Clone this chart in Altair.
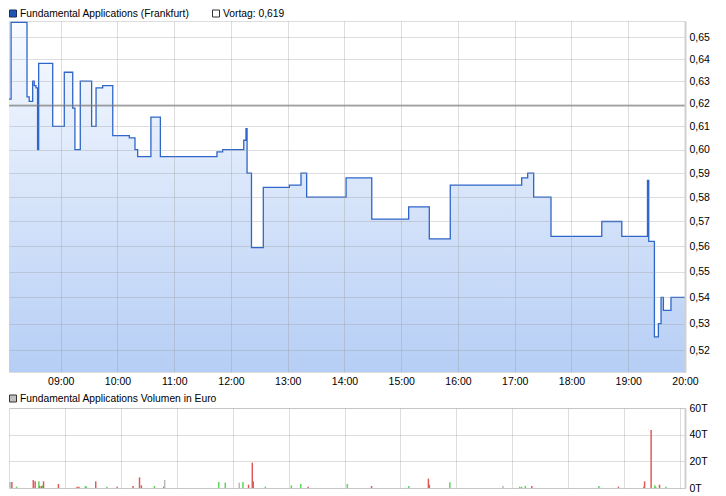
import altair as alt
import pandas as pd

# ---------------- data ----------------
price_times = ["08:01:20", "08:04:00", "08:07:30", "08:24:20", "08:26:40", "08:30:20",
               "08:32:00", "08:33:50", "08:35:30", "08:36:40", "08:51:30", "09:03:45",
               "09:12:40", "09:15:00", "09:20:40", "09:32:40", "09:37:20", "09:44:20",
               "09:55:00", "10:12:30", "10:18:30", "10:21:20", "10:35:20", "10:45:20",
               "11:45:10", "11:51:10", "12:13:30", "12:15:50", "12:17:00", "12:21:40",
               "12:34:10", "13:01:40", "13:14:00", "13:20:00", "14:01:40", "14:28:50",
               "15:07:50", "15:29:40", "15:51:50", "17:07:20", "17:13:40", "17:20:00",
               "17:38:20", "18:32:00", "18:53:10", "19:20:20", "19:21:40", "19:27:40",
               "19:31:50", "19:34:40", "19:37:10", "19:45:10", "20:00:00"]
prices = [0.640, 0.622, 0.657, 0.623, 0.621, 0.630,
          0.628, 0.627, 0.600, 0.638, 0.610, 0.634,
          0.618, 0.600, 0.630, 0.610, 0.627, 0.628,
          0.606, 0.605, 0.600, 0.597, 0.614, 0.597,
          0.599, 0.600, 0.604, 0.609, 0.590, 0.5595,
          0.584, 0.585, 0.590, 0.580, 0.588, 0.571,
          0.576, 0.563, 0.585, 0.588, 0.590, 0.580,
          0.564, 0.570, 0.564, 0.587, 0.562, 0.525,
          0.530, 0.540, 0.535, 0.540, 0.540]
vortag = 0.619

vol_times = ["08:01", "08:03", "08:08", "08:26", "08:28", "08:32", "08:33", "08:35", "08:36",
             "08:37", "08:53", "09:13", "09:15", "09:22", "09:23", "09:33", "09:45", "09:56",
             "10:13", "10:20", "10:22", "10:36", "10:46", "10:47", "11:45", "11:52", "12:07",
             "12:11", "12:17", "12:21", "12:22", "12:35", "13:03", "13:13", "13:21", "14:03",
             "14:29", "15:09", "15:30", "15:31", "15:53", "16:50", "17:08", "17:10", "17:14",
             "17:21", "18:33", "18:54", "19:21", "19:22", "19:29", "19:33", "19:34", "19:38",
             "19:45"]
vol_k = [4.5, 4.5, 1, 6, 5, 5, 1.5, 1.5, 2,
         5, 3, 1, 1, 1.5, 1, 5, 1, 1,
         1.5, 8, 2, 1.5, 1, 6, 4.5, 4, 4,
         4.5, 2.5, 19, 5, 1, 2, 3, 1, 3,
         1.5, 1.5, 7, 2.5, 4.3, 1.5, 1, 1, 1.5,
         1.5, 1.5, 1, 1, 5, 43.5, 2, 1, 2.5,
         1]
vol_dir = ["gray", "red", "green", "red", "red", "green", "red", "red", "green",
           "red", "red", "red", "red", "green", "green", "red", "green", "red",
           "red", "red", "red", "green", "red", "gray", "green", "green", "gray",
           "green", "red", "red", "red", "green", "green", "green", "red", "green",
           "red", "green", "red", "red", "green", "gray", "green", "green", "green",
           "red", "green", "red", "green", "red", "red", "green", "green", "red",
           "green"]

hour_ticks = [9, 10, 11, 12, 13, 14, 15, 16, 17, 18, 19, 20]
price_ticks = [0.52, 0.53, 0.54, 0.55, 0.56, 0.57, 0.58, 0.59, 0.60, 0.61, 0.62, 0.63, 0.64, 0.65]
vol_ticks = [0, 20, 40, 60]

legend_price = "Fundamental Applications (Frankfurt)"
legend_vortag = "Vortag: " + f"{vortag:.3f}".replace(".", ",")
legend_volume = "Fundamental Applications Volumen in Euro"


def to_hours(s):
    parts = [int(p) for p in s.split(":")]
    secs = parts[2] if len(parts) > 2 else 0
    return parts[0] + parts[1] / 60 + secs / 3600


price_df = pd.DataFrame({"h": [to_hours(t) for t in price_times], "p": prices})
vol_df = pd.DataFrame({"h": [to_hours(t) for t in vol_times], "v": vol_k, "d": vol_dir})
one = pd.DataFrame({"a": [legend_price], "b": [legend_vortag], "c": [legend_volume]})
vortag_df = pd.DataFrame({"v": [vortag]})

FONT = "Liberation Sans"
X_DOMAIN = [8 + 5.3 / 60, 20]
GRID = dict(gridColor="#999999", gridOpacity=0.33, zindex=1)

x_scale = alt.Scale(domain=X_DOMAIN, nice=False, zero=False)
hour_label = "(datum.value < 10 ? '0' : '') + datum.value + ':00'"

# ---------------- price panel ----------------
x_price = alt.X("h:Q", scale=x_scale,
                axis=alt.Axis(values=hour_ticks, labelExpr=hour_label, title=None,
                              ticks=False, tickSize=0, domain=False, labelPadding=4,
                              labelFont=FONT, labelFontSize=10.5, labelColor="#000000",
                              labelFlush=False, **GRID))
y_price = alt.Y("p:Q",
                scale=alt.Scale(type="log", domain=[0.512, 0.6576], nice=False, zero=False),
                axis=alt.Axis(orient="right", values=price_ticks,
                              labelExpr="replace(format(datum.value, '.2f'), '.', ',')",
                              title=None, ticks=False, tickSize=0, domainColor="#d0d0d0",
                              domainWidth=2, labelPadding=4, labelFont=FONT, labelFontSize=10.5,
                              labelColor="#000000", labelFlush=False, **GRID))

grad = alt.Gradient(gradient="linear",
                    stops=[alt.GradientStop(color="#f8fbff", offset=0),
                           alt.GradientStop(color="#b6cef5", offset=1)],
                    x1=1, x2=1, y1=0, y2=1)

area = alt.Chart(price_df).mark_area(interpolate="step-after", clip=True, color=grad).encode(
    x=x_price, y=y_price, y2=alt.datum(0.512))
line = alt.Chart(price_df).mark_line(interpolate="step-after", clip=True, color="#2f66c9",
                                     strokeWidth=1.3).encode(x="h:Q", y="p:Q")
rule = alt.Chart(vortag_df).mark_rule(color="#707070", strokeWidth=1).encode(y="v:Q")

sq1 = alt.Chart(one).mark_rect(fill="#1f55b5", stroke="#1a2c5c", strokeWidth=1).encode(
    x=alt.value(0.5), x2=alt.value(7.5), y=alt.value(-11), y2=alt.value(-4))
tx1 = alt.Chart(one).mark_text(align="left", baseline="top", font=FONT, fontSize=10.3,
                               color="#000000").encode(x=alt.value(11), y=alt.value(-12), text="a:N")
sq2 = alt.Chart(one).mark_rect(fill="#ffffff", stroke="#333333", strokeWidth=1).encode(
    x=alt.value(203.5), x2=alt.value(210.5), y=alt.value(-11), y2=alt.value(-4))
tx2 = alt.Chart(one).mark_text(align="left", baseline="top", font=FONT, fontSize=10.3,
                               color="#000000").encode(x=alt.value(214), y=alt.value(-12), text="b:N")

price = alt.layer(area, line, rule, sq1, tx1, sq2, tx2).properties(width=676, height=351)

# ---------------- volume panel ----------------
bars = alt.Chart(vol_df).mark_bar(width=1.5, clip=True).encode(
    x=alt.X("h:Q", scale=x_scale,
            axis=alt.Axis(values=hour_ticks, labels=False, ticks=False, tickSize=0,
                          domain=False, title=None, **GRID)),
    y=alt.Y("v:Q", scale=alt.Scale(domain=[0, 60], nice=False),
            axis=alt.Axis(orient="right", values=vol_ticks, labelExpr="datum.value + 'T'",
                          title=None, ticks=False, tickSize=0, domainColor="#d0d0d0",
                          domainWidth=2, labelPadding=4, labelFont=FONT, labelFontSize=10.5,
                          labelColor="#000000", labelFlush=False, **GRID)),
    color=alt.Color("d:N", scale=alt.Scale(domain=["red", "green", "gray"],
                                           range=["#e05a5a", "#5cd65c", "#b8b8b8"]),
                    legend=None))
sq3 = alt.Chart(one).mark_rect(fill="#c0c0c0", stroke="#333333", strokeWidth=1).encode(
    x=alt.value(0.5), x2=alt.value(7.5), y=alt.value(-13), y2=alt.value(-6))
tx3 = alt.Chart(one).mark_text(align="left", baseline="top", font=FONT, fontSize=10.3,
                               color="#000000").encode(x=alt.value(11), y=alt.value(-14.5), text="c:N")

volume = alt.layer(bars, sq3, tx3).properties(width=676, height=80)

chart = alt.vconcat(price, volume, spacing=36, bounds="flush").properties(
    padding=0, background="#ffffff"
).configure_view(stroke="#dcdcdc", strokeWidth=1).configure(font=FONT)

chart.save("out.html", embed_options={"renderer": "svg", "actions": False})
